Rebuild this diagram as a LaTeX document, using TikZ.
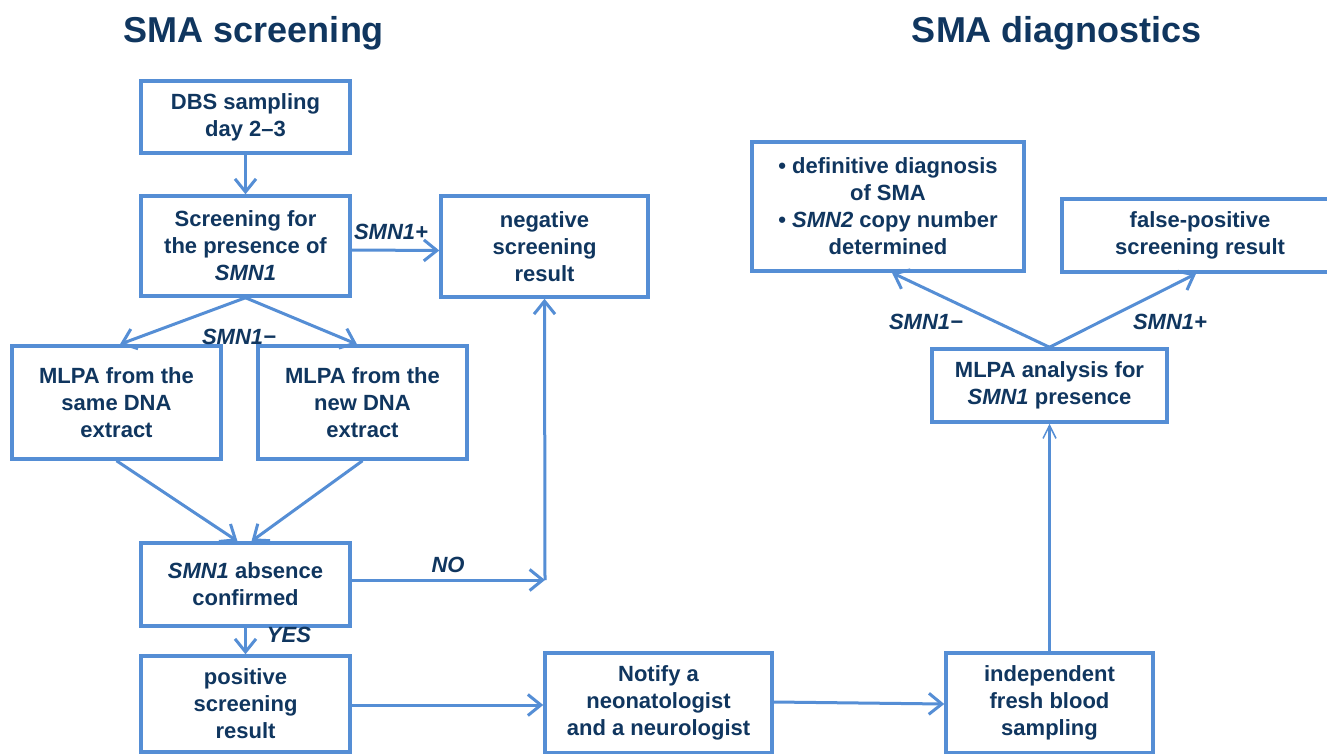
\documentclass[tikz,border=0pt]{standalone}
\usepackage{fontspec}
\setmainfont{Liberation Sans}
\usetikzlibrary{arrows.meta,calc}
\definecolor{boxblue}{HTML}{558ED5}
\definecolor{txt}{HTML}{10365F}
\begin{document}
\begin{tikzpicture}[x=1pt,y=-1pt,
  box/.style={draw=boxblue, line width=3.5pt, text=txt, align=center, inner sep=0pt,
    font=\fontsize{22}{27}\selectfont\bfseries},
  lbl/.style={text=txt, inner sep=0pt, font=\fontsize{22}{27}\selectfont\bfseries\itshape},
  ttl/.style={text=txt, inner sep=0pt, font=\fontsize{36}{40}\selectfont\bfseries},
  arr/.style={draw=boxblue, line width=3pt, -{Straight Barb[length=13pt,width=21pt]}},
  thinarr/.style={draw=boxblue, line width=3pt, -{Straight Barb[length=13pt,width=13pt,line width=1.5pt]}}]
\fill[white] (0,0) rectangle (1327,754);
\useasboundingbox (0,0) rectangle (1327,754);

% titles
\node[ttl] (t1) at (254,33) {SMA screening};
\node[ttl] (t2) at (1057,33) {SMA diagnostics};

% screening boxes
\node[box, minimum width=209pt, minimum height=72pt] (dbs) at (245.5,117) {DBS sampling\\day 2–3};
\node[box, minimum width=209pt, minimum height=100pt] (scr) at (245.5,246) {Screening for\\the presence of\\\textit{SMN1}};
\node[box, minimum width=207pt, minimum height=101pt] (neg) at (544.5,246.5) {negative\\screening\\result};
\node[box, minimum width=209pt, minimum height=113pt] (ms) at (116.5,402.5) {MLPA from the\\same DNA\\extract};
\node[box, minimum width=209pt, minimum height=113pt] (mn) at (362.5,402.5) {MLPA from the\\new DNA\\extract};
\node[box, minimum width=209pt, minimum height=83pt] (abs) at (245.5,584.5) {\textit{SMN1} absence\\confirmed};
\node[box, minimum width=209pt, minimum height=96pt] (pos) at (245.5,704) {positive\\screening\\result};
\node[box, minimum width=227pt, minimum height=100pt] (ntf) at (658.5,703) {Notify a\\neonatologist\\and a neurologist};
\node[box, minimum width=207pt, minimum height=100pt] (ind) at (1049.5,703) {independent\\fresh blood\\sampling};

% diagnostics boxes
\node[box, minimum width=235pt, minimum height=73pt] (mlpa) at (1049.5,385.5) {MLPA analysis for\\\textit{SMN1} presence};
\node[box, minimum width=272pt, minimum height=129pt] (def) at (888,206.5) {• definitive diagnosis\\of SMA\\• \textit{SMN2} copy number\\determined};
\node[box, minimum width=276pt, minimum height=73pt] (fp) at (1200,235.5) {false-positive\\screening result};

\coordinate (no) at (545,580);

% connectors
\draw[arr] (dbs.south) -- (scr.north);
\draw[arr] ([yshift=-4pt]scr.east) -- ([yshift=-4pt]neg.west);
\draw[arr] (scr.south) -- ([xshift=3.5pt]ms.north);
\draw[arr] (scr.south) -- ([xshift=-5.5pt]mn.north);
\draw[arr] (ms.south) -- ([xshift=-8pt]abs.north);
\draw[arr] (mn.south) -- ([xshift=6pt]abs.north);
\draw[arr] (abs.east |- no) -- (no);
\draw[arr] (no) -- (neg.south);
\draw[arr] (abs.south) -- (pos.north);
\draw[arr] (pos.east |- 0,705) -- (ntf.west |- 0,705);
\draw[arr] (ntf.east |- 0,702) -- (ind.west |- 0,704);
\draw[thinarr] (ind.north) -- (mlpa.south);
\draw[arr] (mlpa.north) -- ([xshift=4pt]def.south);
\draw[arr] (mlpa.north) -- ([xshift=-4pt]fp.south);

% labels
\node[lbl] (l1) at (391,232) {SMN1+};
\node[lbl] (l2) at (239,337) {SMN1−};
\node[lbl] (l3) at (448,565) {NO};
\node[lbl] (l4) at (289,635) {YES};
\node[lbl] (l5) at (926,322) {SMN1−};
\node[lbl] (l6) at (1170,322) {SMN1+};
\end{tikzpicture}
\end{document}
